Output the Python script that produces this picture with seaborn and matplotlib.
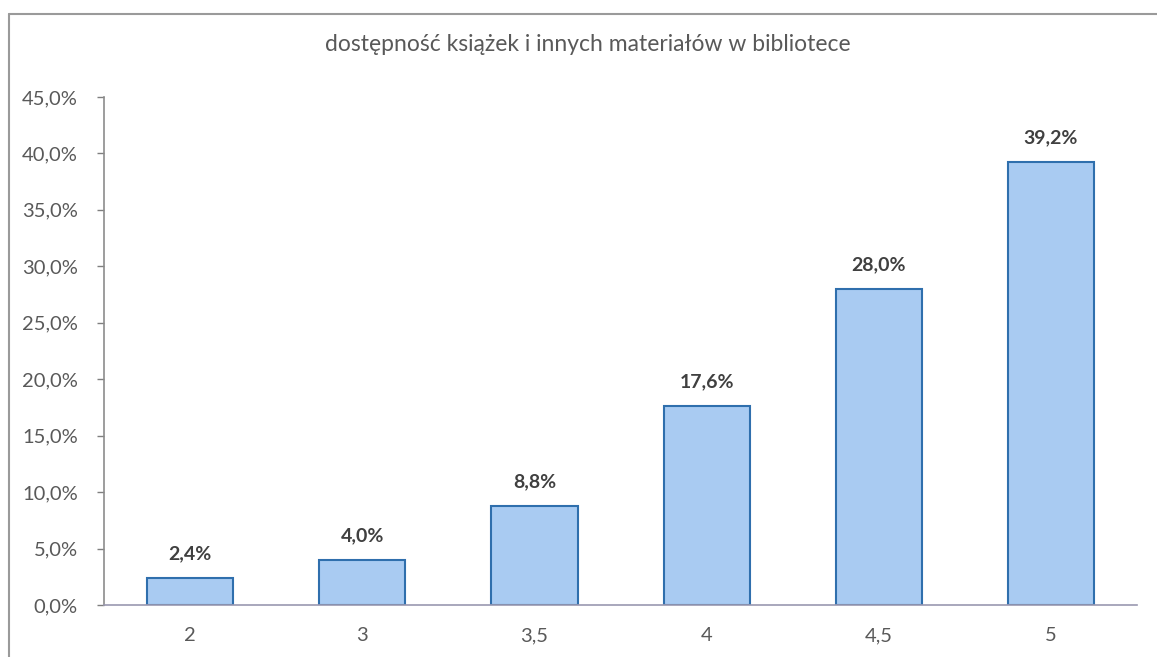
import matplotlib
matplotlib.use("Agg")
import matplotlib.pyplot as plt
import seaborn as sns
import pandas as pd
from matplotlib.lines import Line2D

# Data
grades = ["2", "3", "3,5", "4", "4,5", "5"]
shares = [2.4, 4.0, 8.8, 17.6, 28.0, 39.2]
y_ticks = [0, 5, 10, 15, 20, 25, 30, 35, 40, 45]
title = "dostępność książek i innych materiałów w bibliotece"

sns.set_theme(style="white")
plt.rcParams["font.family"] = ["Lato", "DejaVu Sans"]

df = pd.DataFrame({"grade": grades, "share": shares})

fig = plt.figure(figsize=(11.57, 6.57), dpi=100)
ax = fig.add_axes([0.0899, 0.0792, 0.8929, 0.7732])

sns.barplot(data=df, x="grade", y="share", color="#a9cbf2", width=0.5,
            edgecolor="#2f6fad", linewidth=1.5, saturation=1, ax=ax)

for patch, val in zip(ax.patches, shares):
    ax.text(patch.get_x() + patch.get_width() / 2, val + 1.4,
            f"{val:.1f}%".replace(".", ","), ha="center", va="bottom",
            fontsize=14, fontweight="bold", color="#404040")

ax.set_ylim(0, 45)
ax.set_xlim(-0.5, len(grades) - 0.5)
ax.set_yticks(y_ticks)
ax.set_yticklabels([f"{t:.1f}%".replace(".", ",") for t in y_ticks])
ax.set_xlabel("")
ax.set_ylabel("")
ax.tick_params(axis="y", length=5, width=1, color="#7f7f7f", labelsize=14.5,
               labelcolor="#595959", pad=14, left=True)
ax.tick_params(axis="x", length=0, labelsize=14.5, labelcolor="#595959", pad=16)

for side in ["top", "right"]:
    ax.spines[side].set_visible(False)
ax.spines["left"].set_color("#8c8c8c")
ax.spines["bottom"].set_color("#9a98b0")
ax.spines["left"].set_linewidth(1.2)
ax.spines["bottom"].set_linewidth(1.2)

fig.text(0.508, 0.932, title, ha="center", va="center", fontsize=16.5,
         color="#595959")

# chart frame (only top and left edges visible in the scan)
fig.add_artist(Line2D([0.008, 1.0], [0.979, 0.979], transform=fig.transFigure,
                      color="#9a9a9a", linewidth=1.5))
fig.add_artist(Line2D([0.008, 0.008], [0.0, 0.979], transform=fig.transFigure,
                      color="#9a9a9a", linewidth=1.5))

fig.savefig("out.png", dpi=100)
